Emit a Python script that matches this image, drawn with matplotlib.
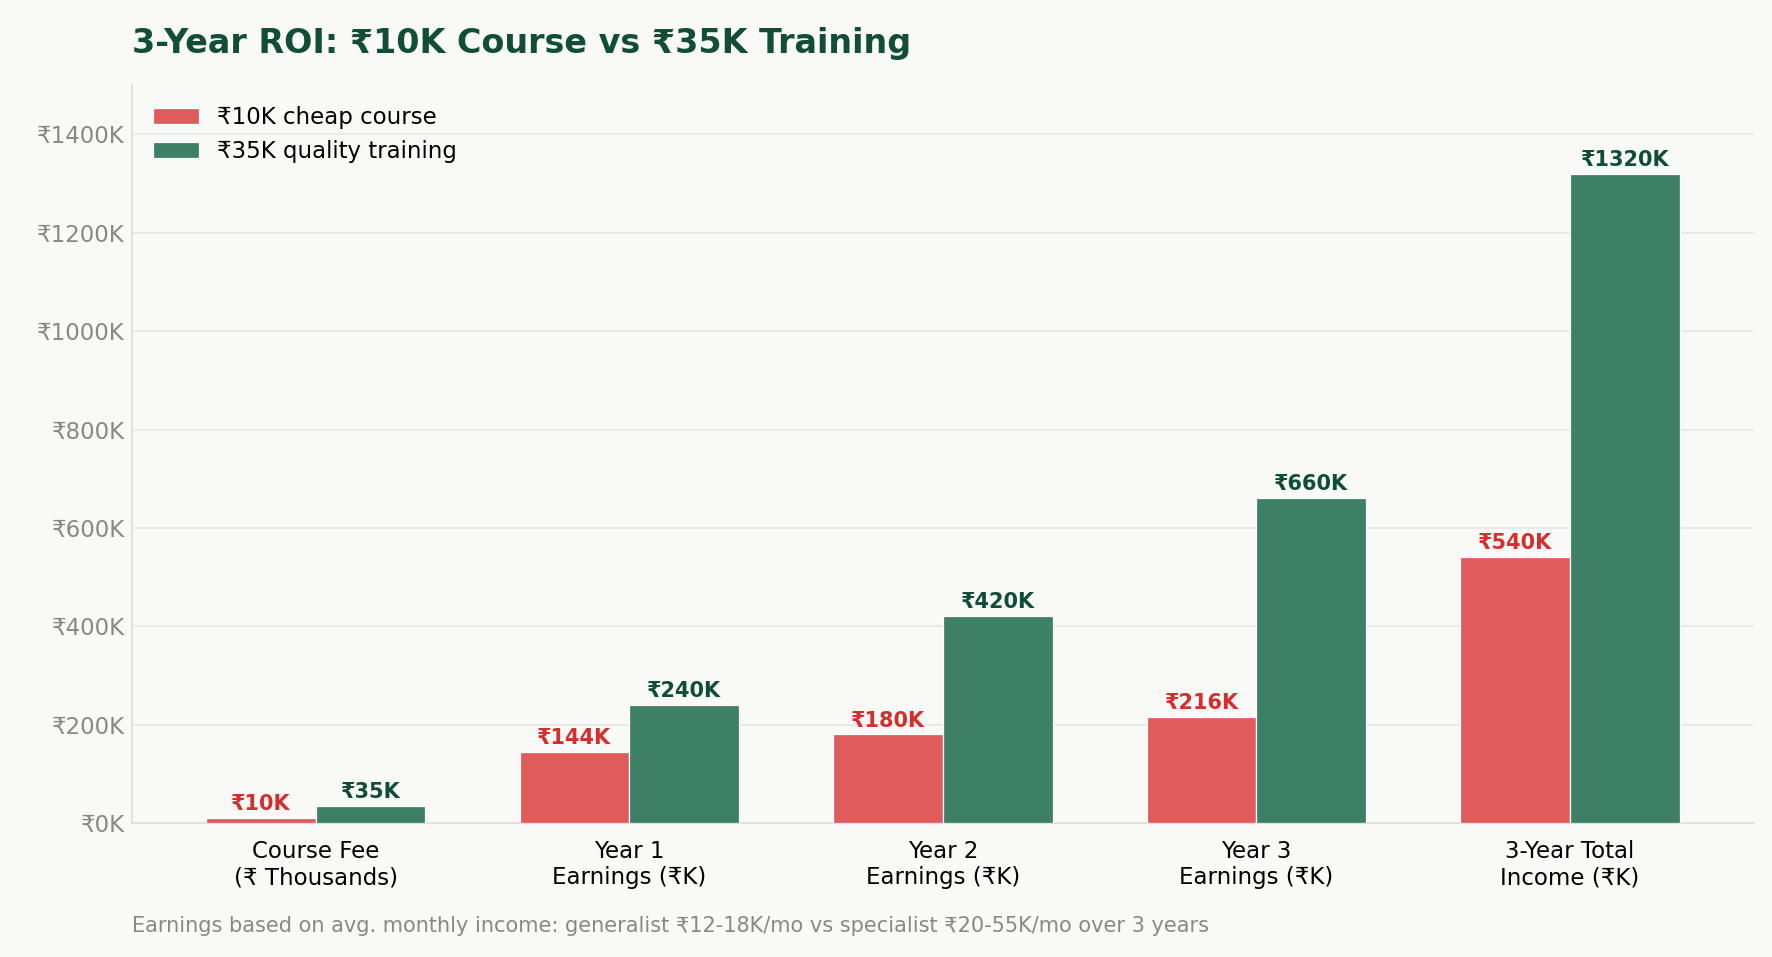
import numpy as np
import matplotlib.pyplot as plt

categories = ['Course Fee\n(₹ Thousands)', 'Year 1\nEarnings (₹K)', 'Year 2\nEarnings (₹K)',
              'Year 3\nEarnings (₹K)', '3-Year Total\nIncome (₹K)']
cheap = [10, 144, 180, 216, 540]
quality = [35, 240, 420, 660, 1320]

bg = '#f9f9f7'
red = '#e05c5c'
green = '#3d8066'

fig = plt.figure(figsize=(1772 / 150, 957 / 150), dpi=150, facecolor=bg)
ax = fig.add_axes([0.0746, 0.14, 0.915, 0.771])
ax.set_facecolor(bg)

x = np.arange(len(categories))
w = 0.35
b1 = ax.bar(x - w / 2, cheap, w, color=red, edgecolor='white', linewidth=0.6, label='₹10K cheap course', zorder=3)
b2 = ax.bar(x + w / 2, quality, w, color=green, edgecolor='white', linewidth=0.6, label='₹35K quality training', zorder=3)

for r, v in zip(b1, cheap):
    ax.text(r.get_x() + r.get_width() / 2, v + 8, f'₹{v}K', ha='center', va='bottom',
            fontsize=10, fontweight='bold', color='#d32f2f')
for r, v in zip(b2, quality):
    ax.text(r.get_x() + r.get_width() / 2, v + 8, f'₹{v}K', ha='center', va='bottom',
            fontsize=10, fontweight='bold', color='#0f4d36')

ax.set_ylim(0, 1500)
ax.set_yticks(range(0, 1401, 200))
ax.set_yticklabels([f'₹{v}K' for v in range(0, 1401, 200)])
ax.set_xticks(x)
ax.set_xticklabels(categories, fontsize=11)
ax.tick_params(axis='y', labelsize=11, colors='#888888', length=0)
ax.tick_params(axis='x', length=0, pad=8)
ax.grid(axis='y', color='#e6e6e6', linewidth=0.8, zorder=0)
for s in ['top', 'right']:
    ax.spines[s].set_visible(False)
for s in ['left', 'bottom']:
    ax.spines[s].set_color('#dddddd')

ax.legend(loc='upper left', frameon=False, fontsize=11)
fig.text(0.0746, 0.955, '3-Year ROI: ₹10K Course vs ₹35K Training', fontsize=16,
         fontweight='bold', color='#124d36', va='center')
fig.text(0.0746, 0.032, 'Earnings based on avg. monthly income: generalist ₹12-18K/mo vs specialist ₹20-55K/mo over 3 years',
         fontsize=10, color='#888888', va='center')
fig.savefig('out.png', facecolor=bg)
